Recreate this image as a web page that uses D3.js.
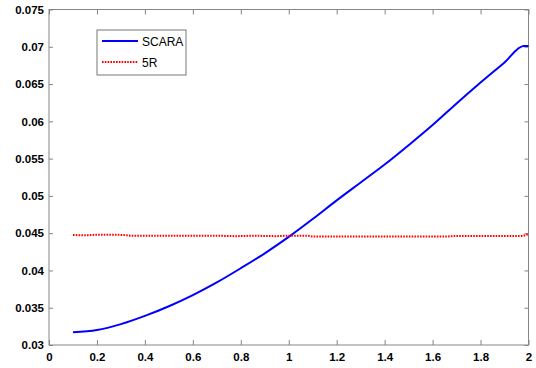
<!DOCTYPE html>
<html>
<head>
<meta charset="utf-8">
<script src="https://cdn.jsdelivr.net/npm/d3@7"></script>
<style>
  body { margin: 0; background: #fff; }
  svg { display: block; }
  .tick text { font-family: "Liberation Sans", Arial, sans-serif; font-weight: bold; font-size: 11.5px; fill: #000; }
</style>
</head>
<body>
<svg></svg>
<script>
// data
var xTicks = [0, 0.2, 0.4, 0.6, 0.8, 1, 1.2, 1.4, 1.6, 1.8, 2]
var yTicks = [0.03, 0.035, 0.04, 0.045, 0.05, 0.055, 0.06, 0.065, 0.07, 0.075]

var scaraX = [0.1, 0.2, 0.3, 0.4, 0.5, 0.6, 0.7, 0.8, 0.9, 1.0, 1.1, 1.2, 1.3, 1.4, 1.5, 1.6, 1.7, 1.8, 1.9, 1.98, 2.0]
var scaraY = [0.0317, 0.0320, 0.0328, 0.0339, 0.0352, 0.0367, 0.0384, 0.0403, 0.0423, 0.0445, 0.0469, 0.0494, 0.0518, 0.0542, 0.0568, 0.0595, 0.0624, 0.0652, 0.0679, 0.0701, 0.0701]

var fiveRX = [0.1, 0.15, 0.2, 0.3, 0.35, 0.5, 0.7, 0.78, 0.85, 0.95, 1.0, 1.08, 1.1, 1.3, 1.5, 1.65, 1.7, 1.8, 1.97, 2.0]
var fiveRY = [0.04475, 0.04472, 0.04478, 0.04477, 0.04465, 0.04465, 0.04465, 0.0446, 0.04465, 0.0446, 0.04467, 0.04465, 0.04455, 0.04455, 0.04455, 0.04455, 0.04462, 0.04462, 0.04462, 0.0449]

var seriesNames = ['SCARA', '5R']

var width = 536
var height = 368
var margin = {left: 49, top: 9.5, right: 7.5, bottom: 23}
var svg = d3.select('svg').attr('width', width).attr('height', height)

var x = d3.scaleLinear().domain([0, 2]).range([margin.left, width - margin.right])
var y = d3.scaleLinear().domain([0.03, 0.075]).range([height - margin.bottom, margin.top])

var axisColor = '#858585'

// box
svg.append('rect')
  .attr('x', x(0)).attr('y', y(0.075))
  .attr('width', x(2) - x(0)).attr('height', y(0.03) - y(0.075))
  .attr('fill', 'none').attr('stroke', axisColor).attr('stroke-width', 1)

function styleAxis(g) {
  g.select('.domain').remove()
  g.selectAll('.tick line').attr('stroke', axisColor)
}

// bottom axis, ticks inside
svg.append('g')
  .attr('transform', 'translate(0,' + y(0.03) + ')')
  .call(d3.axisBottom(x).tickValues(xTicks).tickSizeInner(-5).tickSizeOuter(0).tickPadding(8).tickFormat(d3.format('')))
  .call(styleAxis)
// top mirror
svg.append('g')
  .attr('transform', 'translate(0,' + y(0.075) + ')')
  .call(d3.axisTop(x).tickValues(xTicks).tickSizeInner(-5).tickSizeOuter(0).tickFormat(''))
  .call(styleAxis)
// left axis
svg.append('g')
  .attr('transform', 'translate(' + x(0) + ',0)')
  .call(d3.axisLeft(y).tickValues(yTicks).tickSizeInner(-4).tickSizeOuter(0).tickPadding(5).tickFormat(d3.format('')))
  .call(styleAxis)
// right mirror
svg.append('g')
  .attr('transform', 'translate(' + x(2) + ',0)')
  .call(d3.axisRight(y).tickValues(yTicks).tickSizeInner(-4).tickSizeOuter(0).tickFormat(''))
  .call(styleAxis)

var line = d3.line()
  .x(function(d) { return x(d[0]) })
  .y(function(d) { return y(d[1]) })
  .curve(d3.curveMonotoneX)

svg.append('path')
  .datum(d3.zip(scaraX, scaraY))
  .attr('d', line)
  .attr('fill', 'none').attr('stroke', '#0000ff').attr('stroke-width', 2)

svg.append('path')
  .datum(d3.zip(fiveRX, fiveRY))
  .attr('d', line)
  .attr('fill', 'none').attr('stroke', '#ff0000').attr('stroke-width', 2)
  .attr('stroke-dasharray', '1.6,1.2')

// legend
var legend = svg.append('g').attr('transform', 'translate(97,30)')
legend.append('rect')
  .attr('width', 89).attr('height', 45)
  .attr('fill', '#fff').attr('stroke', '#777').attr('stroke-width', 1)
var styles = [{c: '#0000ff', dash: null}, {c: '#ff0000', dash: '1.6,1.2'}]
seriesNames.forEach(function(name, i) {
  var ly = 11 + i * 21
  legend.append('line')
    .attr('x1', 5).attr('x2', 41).attr('y1', ly).attr('y2', ly)
    .attr('stroke', styles[i].c).attr('stroke-width', 2)
    .attr('stroke-dasharray', styles[i].dash)
  legend.append('text')
    .attr('x', 45).attr('y', ly + 4.5)
    .attr('font-family', '"Liberation Sans", Arial, sans-serif')
    .attr('font-size', 12)
    .text(name)
})
</script>
</body>
</html>
